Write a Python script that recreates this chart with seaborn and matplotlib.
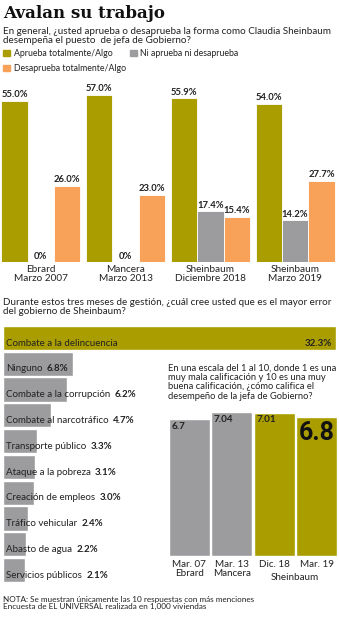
import matplotlib
matplotlib.use("Agg")
import matplotlib.pyplot as plt
import seaborn as sns
import pandas as pd
from matplotlib.patches import Patch

# ---------------- data ----------------
periodos = ["Ebrard\nMarzo 2007", "Mancera\nMarzo 2013",
            "Sheinbaum\nDiciembre 2018", "Sheinbaum\nMarzo 2019"]
series = ["Aprueba totalmente/Algo", "Ni aprueba ni desaprueba",
          "Desaprueba totalmente/Algo"]
aprueba = [55.0, 57.0, 55.9, 54.0]
ni_ni = [0.0, 0.0, 17.4, 14.2]
desaprueba = [26.0, 23.0, 15.4, 27.7]

errores = ["Combate a la delincuencia", "Ninguno", "Combate a la corrupción",
           "Combate al narcotráfico", "Transporte público", "Ataque a la pobreza",
           "Creación de empleos", "Tráfico vehicular", "Abasto de agua",
           "Servicios públicos"]
errores_val = [32.3, 6.8, 6.2, 4.7, 3.3, 3.1, 3.0, 2.4, 2.2, 2.1]

calif_labels = ["Mar. 07\nEbrard", "Mar. 13\nMancera", "Dic. 18", "Mar. 19"]
calif_vals = [6.7, 7.04, 7.01, 6.8]

OLIVE = "#aa9d00"
GRAY = "#9c9c9e"
ORANGE = "#f8a159"
TXT = "#222222"

sns.set_theme(style="white")
plt.rcParams["font.family"] = ["Lato", "DejaVu Sans"]
plt.rcParams["text.color"] = TXT

W, H = 339, 620
fig = plt.figure(figsize=(W / 100, H / 100), dpi=100)


def rect(x0, y0, x1, y1):
    return [x0 / W, 1 - y1 / H, (x1 - x0) / W, (y1 - y0) / H]


def ftext(x, y, s, **kw):
    return fig.text(x / W, 1 - y / H, s, **kw)


# ---------------- header ----------------
ftext(3, 13, "Avalan su trabajo", fontsize=12, fontweight="bold",
      family=["DejaVu Serif"], va="center", ha="left", color="#111111")
ftext(3, 36, "En general, ¿usted aprueba o desaprueba la forma como Claudia Sheinbaum\n"
      "desempeña el puesto  de jefa de Gobierno?", fontsize=7.1, va="center",
      ha="left", linespacing=1.08)

handles = [Patch(color=OLIVE), Patch(color=ORANGE), Patch(color=GRAY)]
labs = [series[0], series[2], series[1]]
fig.legend(handles=handles, labels=labs, loc="upper left",
           bbox_to_anchor=(3 / W, 1 - 49 / H), ncol=2, frameon=False,
           fontsize=6.3, handlelength=0.8, handleheight=0.8, handletextpad=0.4,
           columnspacing=0.5, borderaxespad=0, borderpad=0, labelspacing=0.7)

# ---------------- top grouped bars ----------------
df1 = pd.DataFrame({
    "periodo": periodos * 3,
    "serie": [series[0]] * 4 + [series[1]] * 4 + [series[2]] * 4,
    "valor": aprueba + ni_ni + desaprueba,
})
ax1 = fig.add_axes(rect(-1.5, 86, 337.5, 262))
sns.barplot(data=df1, x="periodo", y="valor", hue="serie",
            palette=[OLIVE, GRAY, ORANGE], width=0.93, saturation=1,
            edgecolor="white", linewidth=0.6, legend=False, ax=ax1)
for cont in ax1.containers:
    ax1.bar_label(cont, fmt=lambda v: "0%" if v == 0 else f"{v:.1f}%",
                  fontsize=6.8, fontweight="bold", padding=1, color=TXT)
ax1.set_ylim(0, 60)
ax1.set_xlim(-0.5, 3.5)
ax1.set_xlabel("")
ax1.set_ylabel("")
ax1.set_yticks([])
ax1.tick_params(axis="x", length=0, pad=2, labelsize=7.2, labelcolor=TXT)
for lab in ax1.get_xticklabels():
    lab.set_linespacing(1.0)
sns.despine(ax=ax1, left=True, bottom=True)

# ---------------- second question ----------------
ftext(3, 307, "Durante estos tres meses de gestión, ¿cuál cree usted que es el mayor error\n"
      "del gobierno de Sheinbaum?", fontsize=7.1, va="center", ha="left",
      linespacing=1.08)

# ---------------- horizontal bars ----------------
ax2 = fig.add_axes(rect(3, 325, 336, 583))
sns.barplot(x=errores_val, y=errores, hue=errores, orient="h",
            palette=[OLIVE] + [GRAY] * 9, width=0.94, saturation=1,
            legend=False, ax=ax2)
ax2.set_xlim(0, 32.3)
ax2.set_ylim(9.5, -0.5)
ax2.axis("off")
for i, (lab, v) in enumerate(zip(errores, errores_val)):
    t = ax2.text(0.3, i + 0.2, lab, fontsize=7.0, va="center", ha="left",
                 color=TXT)
    if i == 0:
        ax2.text(31.9, i + 0.2, f"{v}%", fontsize=7.0, fontweight="bold",
                 va="center", ha="right", color=TXT)
    else:
        ax2.annotate(f"{v}%", xy=(1, 0), xycoords=t, xytext=(3, 0),
                     textcoords="offset points", fontsize=7.0,
                     fontweight="bold", va="bottom", ha="left", color=TXT)

# ---------------- right question ----------------
ftext(168, 382, "En una escala del 1 al 10, donde 1 es una\n"
      "muy mala calificación y 10 es una muy\n"
      "buena calificación, ¿cómo califica el\n"
      "desempeño de la jefa de Gobierno?", fontsize=6.75, va="center",
      ha="left", linespacing=1.05)

# ---------------- right bars ----------------
ax3 = fig.add_axes(rect(168, 412, 338, 556))
sns.barplot(x=calif_labels, y=calif_vals, hue=calif_labels,
            palette=[GRAY, GRAY, OLIVE, OLIVE], width=0.97, saturation=1,
            legend=False, ax=ax3)
ax3.set_ylim(0, 7.04)
ax3.set_xlim(-0.5, 3.5)
ax3.set_yticks([])
ax3.tick_params(axis="x", length=0, pad=3, labelsize=7.1, labelcolor=TXT)
for lab in ax3.get_xticklabels():
    lab.set_linespacing(1.0)
sns.despine(ax=ax3, left=True, bottom=True)
bars = [p for cont in ax3.containers for p in cont]
for k, (p, v) in enumerate(zip(bars, calif_vals)):
    if k == len(bars) - 1:
        ax3.annotate(f"{v:g}", xy=(p.get_x(), p.get_height()), xytext=(2, -3),
                     textcoords="offset points", ha="left", va="top",
                     fontsize=18, fontweight="bold", color="#111111",
                     family=["Roboto", "DejaVu Sans"])
    else:
        ax3.annotate(f"{v:g}", xy=(p.get_x(), p.get_height()), xytext=(2, -2),
                     textcoords="offset points", ha="left", va="top",
                     fontsize=7.1, fontweight="bold", color=TXT)
ftext(295, 578, "Sheinbaum", fontsize=7.1, va="center", ha="center")

# ---------------- footnote ----------------
ftext(3, 603, "NOTA: Se muestran únicamente las 10 respuestas con más menciones\n"
      "Encuesta de EL UNIVERSAL realizada en 1,000 viviendas", fontsize=5.9,
      va="center", ha="left", linespacing=1.1)

fig.savefig("out.png", dpi=100, facecolor="white")
